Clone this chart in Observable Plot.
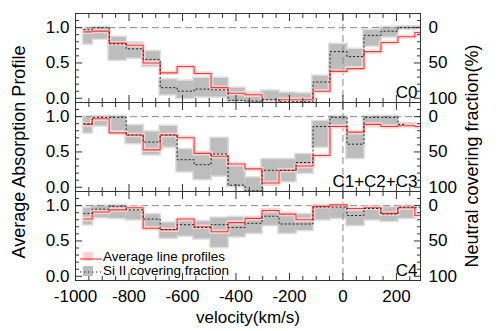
<!DOCTYPE html>
<html><head><meta charset="utf-8">
<script src="https://cdn.jsdelivr.net/npm/d3@7"></script>
<script src="https://cdn.jsdelivr.net/npm/@observablehq/plot@0.6"></script>
<style>
body{margin:0;background:#fff;font-family:"Liberation Sans",Arial,Helvetica,sans-serif;}
#wrap{position:relative;width:498px;height:331px;overflow:hidden;}
.t{position:absolute;white-space:nowrap;color:#000;line-height:1;}
.rot{transform:translate(-50%,-50%) rotate(-90deg);}
.leg{position:absolute;display:flex;align-items:center;font-size:13.5px;line-height:12px;height:12px;white-space:nowrap;}
.leg svg{display:block;}
</style></head><body>
<div id="wrap"></div>
<script>
// ---- data ----
const panels = ["C0", "C1+C2+C3", "C4"];
const velocity = [-969,-906,-842,-779,-715,-652,-588,-525,-461,-398,-334,-271,-207,-144,-80,-17,47,110,174,237,301];

const c0Profile = [0.94,0.95,0.78,0.75,0.50,0.36,0.45,0.35,0.15,0.07,0.05,-0.06,-0.02,-0.02,0.10,0.38,0.42,0.66,0.79,0.87,0.93];
const c0Si      = [0.97,1.00,0.77,0.70,0.55,0.15,0.10,0.13,0.12,-0.03,-0.04,-0.02,-0.05,-0.05,0.23,0.66,0.59,0.89,0.95,1.00,1.00];
const c0SiHi    = [0.98,1.00,0.86,0.78,0.66,0.26,0.24,0.28,0.28,0.14,0.07,0.10,0.07,0.06,0.31,0.76,0.69,0.96,1.00,1.01,1.01];
const c0SiLo    = [0.77,0.84,0.54,0.57,0.45,0.05,0.00,0.02,0.02,-0.04,-0.06,-0.04,-0.06,-0.06,0.09,0.39,0.45,0.74,0.87,0.98,0.99];

const c123Profile = [0.89,0.97,0.77,0.74,0.53,0.74,0.70,0.48,0.44,0.33,0.26,0.06,0.24,0.30,0.45,0.86,0.78,0.89,0.86,0.87,0.86];
const c123Si      = [0.90,0.99,0.99,0.74,0.64,0.74,0.39,0.32,0.47,0.03,-0.05,0.24,0.24,0.35,0.86,0.99,0.61,0.99,0.99,0.89,null];
const c123SiHi    = [0.99,1.00,1.00,0.87,0.78,0.86,0.53,0.49,0.69,0.29,0.13,0.39,0.39,0.46,0.93,1.00,0.75,1.00,1.00,0.90,null];
const c123SiLo    = [0.77,0.87,0.80,0.62,0.46,0.57,0.22,0.11,0.16,0.01,-0.06,0.03,0.08,0.20,0.57,0.86,0.41,0.86,0.86,0.88,null];

const c4Profile = [0.81,0.91,0.94,0.97,0.68,0.66,0.81,0.70,0.63,0.76,0.82,0.93,0.88,0.80,0.99,1.01,0.96,0.97,0.89,0.97,0.86];
const c4Si      = [0.89,0.95,0.99,0.94,0.81,0.66,0.73,0.69,0.73,0.69,0.75,0.85,0.74,0.74,0.98,0.98,0.86,0.96,0.88,0.98,0.97];
const c4SiHi    = [0.96,0.99,1.00,0.97,0.87,0.75,0.80,0.77,0.82,0.83,0.83,0.94,0.89,0.87,1.00,0.99,0.94,0.98,0.97,0.99,null];
const c4SiLo    = [0.73,0.83,0.82,0.80,0.68,0.54,0.57,0.53,0.41,0.56,0.61,0.72,0.61,0.65,0.80,0.82,0.72,0.80,0.78,0.82,null];

const xTicks = [-1000,-800,-600,-400,-200,0,200];
const yTicks = [0, 0.5, 1];
const coverLabels = ["100", "50", "0"];

// ---- build table ----
const series = {
  "C0": {profile: c0Profile, si: c0Si, hi: c0SiHi, lo: c0SiLo},
  "C1+C2+C3": {profile: c123Profile, si: c123Si, hi: c123SiHi, lo: c123SiLo},
  "C4": {profile: c4Profile, si: c4Si, hi: c4SiHi, lo: c4SiLo}
};
const n = velocity.length;
const rows = panels.flatMap(p => velocity.map((v, i) => ({
  panel: p, v,
  x1: i === 0 ? v : (velocity[i - 1] + v) / 2,
  x2: i === n - 1 ? v : (v + velocity[i + 1]) / 2,
  profile: series[p].profile[i], si: series[p].si[i], hi: series[p].hi[i], lo: series[p].lo[i]
})));

const xMinor = d3.range(-1000, 300, 50).filter(d => !xTicks.includes(d));
const yMinor = d3.range(1, 12).map(i => i / 10).filter(d => !yTicks.includes(d));

const chart = Plot.plot({
  width: 498, height: 331,
  marginLeft: 75, marginRight: 78, marginTop: 12, marginBottom: 51,
  x: {domain: [-1000, 290]},
  y: {domain: [-0.06, 1.2]},
  fy: {domain: panels, padding: 0, axis: null},
  style: {fontFamily: "'Liberation Sans', Arial, sans-serif", fontSize: "17px", color: "#000", background: "#fff"},
  marks: [
    // gray Si II boxes (halo + core)
    Plot.rect(rows, {fy: "panel", x1: "x1", x2: "x2", y1: "lo", y2: "hi", fill: "#dedede", stroke: "#dedede", strokeWidth: 3, clip: true}),
    Plot.rect(rows, {fy: "panel", x1: "x1", x2: "x2", y1: "lo", y2: "hi", fill: "#bdbdbd", clip: true}),
    // reference lines
    Plot.ruleY([1], {stroke: "#8a8a8a", strokeDasharray: "7,4"}),
    Plot.ruleX([0], {stroke: "#8a8a8a", strokeDasharray: "7,4"}),
    // average line profile
    Plot.line(rows, {fy: "panel", x: "v", y: "profile", curve: "step", stroke: "#ffd6d6", strokeWidth: 4.5, strokeOpacity: 0.85, clip: true}),
    Plot.line(rows, {fy: "panel", x: "v", y: "profile", curve: "step", stroke: "#f03a3a", strokeWidth: 1.1, clip: true}),
    // Si II covering fraction
    Plot.line(rows, {fy: "panel", x: "v", y: "si", curve: "step", stroke: "#222", strokeWidth: 1, strokeDasharray: "1.3,2.7", clip: true}),
    // frame
    Plot.frame({stroke: "#333"}),
    // inward ticks
    Plot.axisX(xTicks, {anchor: "bottom", facetAnchor: null, tickSize: -7, fill: "none", stroke: "#333"}),
    Plot.axisX(xMinor, {anchor: "bottom", facetAnchor: null, tickSize: -4, fill: "none", stroke: "#333"}),
    Plot.axisX(xTicks, {anchor: "top", facetAnchor: null, tickSize: -7, fill: "none", stroke: "#333"}),
    Plot.axisX(xMinor, {anchor: "top", facetAnchor: null, tickSize: -4, fill: "none", stroke: "#333"}),
    Plot.axisY(yTicks, {anchor: "left", tickSize: -7, fill: "none", stroke: "#333"}),
    Plot.axisY(yMinor, {anchor: "left", tickSize: -4, fill: "none", stroke: "#333"}),
    Plot.axisY(yTicks, {anchor: "right", tickSize: -7, fill: "none", stroke: "#333"}),
    Plot.axisY(yMinor, {anchor: "right", tickSize: -4, fill: "none", stroke: "#333"}),
    // tick labels
    Plot.axisX(xTicks, {anchor: "bottom", tickSize: 0, tickPadding: 9, label: null, tickFormat: d => String(d)}),
    Plot.axisY(yTicks, {anchor: "left", tickSize: 0, tickPadding: 6, label: null, tickFormat: d3.format(".1f")}),
    Plot.axisY(yTicks, {anchor: "right", tickSize: 0, tickPadding: 8, label: null, tickFormat: d => coverLabels[yTicks.indexOf(d)]}),
    // panel labels
    Plot.text(panels, {fy: d => d, text: d => d, frameAnchor: "bottom-right", textAnchor: "end", lineAnchor: "bottom", dx: -3, dy: -5, fontSize: 17})
  ]
});

const wrap = document.getElementById("wrap");
wrap.appendChild(chart);

function addText(txt, x, y, size, cls) {
  const d = document.createElement("div");
  d.className = "t " + (cls || "");
  d.textContent = txt;
  d.style.left = x + "px";
  d.style.top = y + "px";
  d.style.fontSize = size + "px";
  if (!cls) d.style.transform = "translate(-50%,-50%)";
  wrap.appendChild(d);
}
addText("Average Absorption Profile", 19, 152, 18, "rot");
addText("Neutral covering fraction(%)", 472, 156, 18, "rot");
addText("velocity(km/s)", 248, 317, 17);

// legend
function legendRow(label, y, swatch) {
  const d = document.createElement("div");
  d.className = "leg";
  d.style.left = "80px";
  d.style.top = (y - 6) + "px";
  d.innerHTML = swatch + '<span style="margin-left:1px">' + label + '</span>';
  wrap.appendChild(d);
}
legendRow("Average line profiles", 257,
  '<svg width="22" height="12"><rect x="3" y="1" width="10" height="9" fill="#ffd0d0"/><line x1="0" x2="22" y1="8" y2="8" stroke="#f03a3a" stroke-width="1.1"/></svg>');
legendRow("Si II covering fraction", 271,
  '<svg width="22" height="12"><rect x="3" y="1" width="10" height="10" fill="#bdbdbd"/><line x1="0" x2="22" y1="7" y2="7" stroke="#222" stroke-dasharray="1.3,2.7"/></svg>');
</script>
</body></html>
